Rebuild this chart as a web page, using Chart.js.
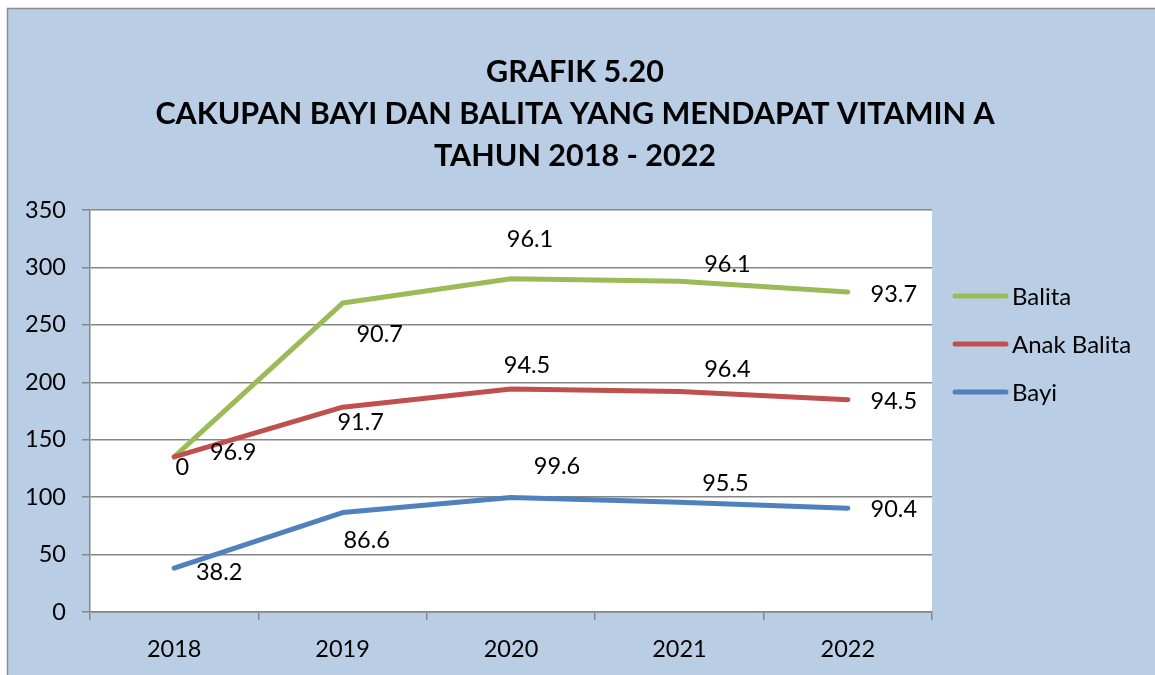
<!DOCTYPE html>
<html lang="id">
<head>
<meta charset="utf-8"/>
<title>Grafik 5.20 Cakupan Vitamin A</title>
<style>
  body { margin: 0; background: #fff; }
  #wrap { width: 1155px; height: 675px; }
</style>
</head>
<body>
<div id="wrap"><canvas id="chart" width="1155" height="675"></canvas></div>
<script src="https://cdn.jsdelivr.net/npm/chart.js"></script>
<script>
  // data
  const years = ["2018", "2019", "2020", "2021", "2022"];
  const bayi = [38.2, 86.6, 99.6, 95.5, 90.4];
  const anakBalita = [96.9, 91.7, 94.5, 96.4, 94.5];
  const balita = [0, 90.7, 96.1, 96.1, 93.7];
  const yTicks = [0, 50, 100, 150, 200, 250, 300, 350];
  const titleLines = ["GRAFIK 5.20", "CAKUPAN BAYI DAN BALITA YANG MENDAPAT VITAMIN A", "TAHUN 2018 - 2022"];

  const FONT = "Lato, 'Open Sans', sans-serif";
  const GRID = '#868686';

  // where the value labels sit relative to their point (px)
  const labelShift = [
    [[45, 4], [24, 28], [46, -31], [46, -19], [46, 1]],
    [[59, -4], [18, 15], [16, -24], [48, -22], [46, 2]],
    [[8, 11], [37, 31], [19, -39], [48, -17], [46, 2]]
  ];

  const frame = {
    id: 'frame',
    beforeDraw(chart) {
      const c = chart.ctx, a = chart.chartArea;
      c.save();
      c.fillStyle = '#b9cde5';
      c.fillRect(7, 8, chart.width, chart.height);
      c.strokeStyle = '#8c8c8c';
      c.lineWidth = 1.5;
      c.strokeRect(7.5, 8.5, chart.width + 20, chart.height + 20);
      c.fillStyle = '#fff';
      c.fillRect(a.left, a.top, a.right - a.left, a.bottom - a.top);
      c.restore();
    },
    afterDraw(chart) {
      const c = chart.ctx;
      c.save();
      // title
      c.fillStyle = '#000';
      c.font = 'bold 30.5px ' + FONT;
      c.textAlign = 'center';
      c.textBaseline = 'middle';
      titleLines.forEach((t, i) => c.fillText(t, 575, 72 + i * 42));

      // value labels
      c.font = '23.5px ' + FONT;
      chart.data.datasets.forEach((ds, di) => {
        chart.getDatasetMeta(di).data.forEach((pt, i) => {
          const s = labelShift[di][i];
          c.fillText(String(ds.data[i]), pt.x + s[0], pt.y + s[1]);
        });
      });

      // legend (top to bottom: Balita, Anak Balita, Bayi)
      c.textAlign = 'left';
      c.font = '24px ' + FONT;
      const order = [2, 1, 0];
      order.forEach((di, k) => {
        const ds = chart.data.datasets[di];
        const y = 296 + k * 48;
        c.strokeStyle = ds.borderColor;
        c.lineWidth = 5;
        c.lineCap = 'round';
        c.beginPath();
        c.moveTo(955, y);
        c.lineTo(1006, y);
        c.stroke();
        c.fillStyle = '#000';
        c.fillText(ds.label, 1012, y + 1);
      });
      c.restore();
    }
  };

  function lineSet(label, data, color) {
    return {
      label: label,
      data: data,
      borderColor: color,
      backgroundColor: color,
      borderWidth: 5,
      borderCapStyle: 'round',
      borderJoinStyle: 'round',
      pointRadius: 0,
      tension: 0,
      fill: false
    };
  }

  new Chart(document.getElementById('chart'), {
    type: 'line',
    data: {
      labels: years,
      datasets: [
        lineSet('Bayi', bayi, '#4f81bd'),
        lineSet('Anak Balita', anakBalita, '#c0504d'),
        lineSet('Balita', balita, '#9bbb59')
      ]
    },
    options: {
      responsive: false,
      animation: false,
      devicePixelRatio: 1,
      layout: { padding: { left: 0, top: 210, right: 223, bottom: 8 } },
      plugins: {
        legend: { display: false },
        title: { display: false },
        tooltip: { enabled: false }
      },
      scales: {
        x: {
          offset: true,
          grid: { offset: true, drawOnChartArea: false, drawTicks: true, tickLength: 8, color: GRID, lineWidth: 1.5 },
          border: { display: true, color: GRID, width: 1.5 },
          ticks: { color: '#000', font: { family: FONT, size: 23.5 }, padding: 15 },
          afterFit(s) { s.height = 55; }
        },
        y: {
          stacked: true,
          min: 0,
          max: 350,
          afterBuildTicks(s) { s.ticks = yTicks.map(v => ({ value: v })); },
          grid: { color: GRID, lineWidth: 1.5, tickLength: 8 },
          border: { display: true, color: GRID, width: 1.5 },
          ticks: { color: '#000', font: { family: FONT, size: 23.5 }, padding: 16 },
          afterFit(s) { s.width = 90; }
        }
      }
    },
    plugins: [frame]
  });
</script>
</body>
</html>
